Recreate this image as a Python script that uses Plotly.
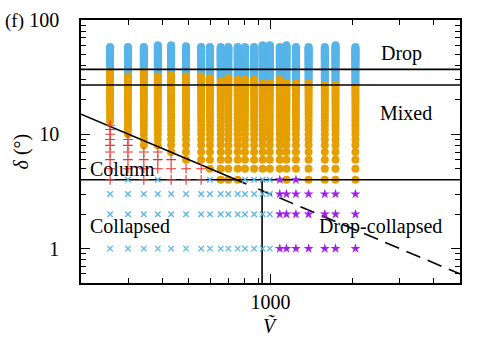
import plotly.graph_objects as go
import math

# ---- data ----
V_cols = [256, 298, 341, 384, 430, 488, 555, 598, 655, 699, 757, 805, 870, 935, 994,
          1082, 1145, 1241, 1382, 1586, 1737, 2057]
# upper delta of blue "drop" dots
drop_top = [58, 58, 58, 60, 60, 59, 58, 58, 58, 58, 58, 58, 58, 60, 60, 58, 60, 58, 58, 58, 60, 58]
# orange "mixed" range
mixed_top = [35, 32, 35, 32, 33, 32, 32, 31, 29, 31, 30, 30, 30, 28, 28, 30, 28, 28, 28, 27, 27, 26]
mixed_low = [13, 10, 8, 8, 7, 6, 6, 5, 4, 4, 4, 5, 5, 5, 5, 5, 4, 5, 4, 4, 4, 4]
# red "column" range (0 = none)
column_low = [4, 5, 4, 5, 4, 4, 4, 0, 0, 0, 0, 0, 0, 0, 0, 0, 0, 0, 0, 0, 0, 0]
column_top = [12, 9, 7, 7, 6, 5, 5, 0, 0, 0, 0, 0, 0, 0, 0, 0, 0, 0, 0, 0, 0, 0]
# lowest regime: collapsed (first 15 columns) / drop-collapsed (last 7), from delta=1 up to low_top
low_top = [3, 4, 3, 4, 3, 3, 3, 4, 3, 3, 3, 4, 4, 4, 4, 4, 3, 4, 3, 3, 3, 3]
n_collapsed = 15

# boundary lines
h_lines = [37, 27, 4]
vert_V = 931
vert_delta = [4, 0.5]
diag_solid_V = [200, 815]
diag_solid_delta = [15.0, 3.68]
diag_dash_V = [900, 5000]
diag_dash_delta = [3.33, 0.6]
x_range = [200, 5000]
y_range = [0.5, 100]

# ---- build point sets ----
def pts(lows, highs, cols):
    xs, ys = [], []
    for i in cols:
        lo, hi = lows[i], highs[i]
        if hi <= 0:
            continue
        for d in range(lo, hi + 1):
            xs.append(V_cols[i]); ys.append(d)
    return xs, ys

all_cols = range(len(V_cols))
drop_x, drop_y = pts([m + 1 for m in mixed_top], drop_top, all_cols)
mix_x, mix_y = pts(mixed_low, mixed_top, all_cols)
col_x, col_y = pts(column_low, column_top, all_cols)
coll_x, coll_y = pts([1] * len(V_cols), low_top, range(n_collapsed))
dc_x, dc_y = pts([1] * len(V_cols), low_top, range(n_collapsed, len(V_cols)))

FONT = "Liberation Serif"
fig = go.Figure()
fig.add_trace(go.Scatter(x=drop_x, y=drop_y, mode="markers",
                         marker=dict(color="#56B4E9", size=8, line=dict(width=0))))
fig.add_trace(go.Scatter(x=mix_x, y=mix_y, mode="markers",
                         marker=dict(color="#E69F00", size=8, line=dict(width=0))))

# lines
for h in h_lines:
    fig.add_trace(go.Scatter(x=x_range, y=[h, h], mode="lines",
                             line=dict(color="black", width=1.6)))
fig.add_trace(go.Scatter(x=[vert_V, vert_V], y=vert_delta, mode="lines",
                         line=dict(color="black", width=1.6)))
fig.add_trace(go.Scatter(x=diag_solid_V, y=diag_solid_delta, mode="lines",
                         line=dict(color="black", width=1.6)))
fig.add_trace(go.Scatter(x=diag_dash_V, y=diag_dash_delta, mode="lines",
                         line=dict(color="black", width=1.6, dash="15px,8px")))

fig.add_trace(go.Scatter(x=col_x, y=col_y, mode="markers",
                         marker=dict(symbol="cross-thin", size=7, line=dict(color="#F0302A", width=1.1))))
fig.add_trace(go.Scatter(x=coll_x, y=coll_y, mode="markers",
                         marker=dict(symbol="x-thin", size=5.5, line=dict(color="#56B4E9", width=1.3))))
fig.add_trace(go.Scatter(x=dc_x, y=dc_y, mode="markers",
                         marker=dict(symbol="star", size=7.5, color="#A020F0", line=dict(width=0))))

def L(v):
    return math.log10(v)

ann = [
    dict(text="Drop", x=L(3035), y=1.703, xanchor="center"),
    dict(text="Mixed", x=L(3160), y=1.185, xanchor="center"),
    dict(text="Column", x=L(213), y=0.70, xanchor="left"),
    dict(text="Collapsed", x=L(213), y=0.19, xanchor="left"),
    dict(text="Drop-collapsed", x=L(1483), y=0.19, xanchor="left"),
]
for a in ann:
    fig.add_annotation(text=a["text"], x=a["x"], y=a["y"], xref="x", yref="y",
                       xanchor=a["xanchor"], yanchor="middle", showarrow=False,
                       font=dict(family=FONT, size=20, color="black"))
# panel label and axis titles
fig.add_annotation(text="(f)", x=-0.205, y=0.996, xref="paper", yref="paper",
                   xanchor="left", yanchor="middle", showarrow=False,
                   font=dict(family=FONT, size=19, color="black"))
fig.add_annotation(text="<i>Ṽ</i>", x=0.5, y=-0.163, xref="paper", yref="paper",
                   xanchor="center", yanchor="middle", showarrow=False,
                   font=dict(family=FONT, size=20, color="black"))
fig.add_annotation(text="<i>δ</i> (°)", x=-0.156, y=0.5, xref="paper", yref="paper",
                   xanchor="center", yanchor="middle", showarrow=False, textangle=-90,
                   font=dict(family=FONT, size=20, color="black"))

x_minor = [300, 400, 500, 600, 700, 800, 900, 2000, 3000, 4000]
y_minor = [0.6, 0.7, 0.8, 0.9, 2, 3, 4, 5, 6, 7, 8, 9, 20, 30, 40, 50, 60, 70, 80, 90]

axis_common = dict(showline=True, linecolor="black", linewidth=1.5, mirror="allticks",
                   ticks="inside", ticklen=9, tickwidth=1, tickcolor="black",
                   showgrid=False, zeroline=False, automargin=False,
                   tickfont=dict(family=FONT, size=20, color="black"))

fig.update_xaxes(type="log", range=[L(x_range[0]), L(x_range[1])],
                 tickmode="array", tickvals=[1000], ticktext=["1000"],
                 minor=dict(tickmode="array", tickvals=x_minor, ticks="inside", ticklen=5,
                            tickcolor="black", tickwidth=1, showgrid=False),
                 ticklabelstandoff=0,
                 **axis_common)
fig.update_yaxes(type="log", range=[L(y_range[0]), L(y_range[1])],
                 tickmode="array", tickvals=[1, 10, 100], ticktext=["1", "10", "100"],
                 minor=dict(tickmode="array", tickvals=y_minor, ticks="inside", ticklen=5,
                            tickcolor="black", tickwidth=1, showgrid=False),
                 ticklabelstandoff=16,
                 **axis_common)

fig.update_layout(width=491, height=338, showlegend=False,
                  margin=dict(l=81, r=31, t=20, b=55),
                  plot_bgcolor="white", paper_bgcolor="white",
                  font=dict(family=FONT, size=20, color="black"))
fig.write_html("out.html", config={"displayModeBar": False},
               post_script="document.body.style.margin='0px';document.body.style.overflow='hidden';")
